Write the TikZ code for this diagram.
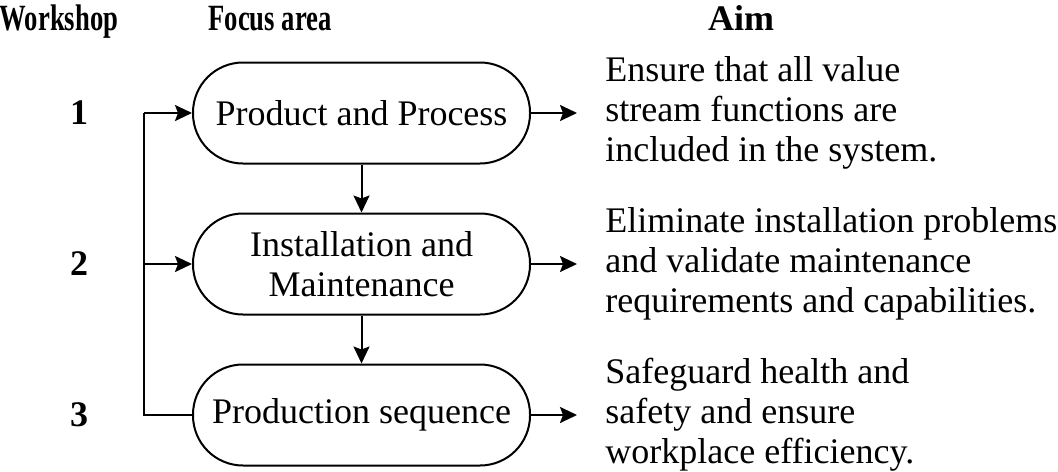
\documentclass[tikz,border=0pt]{standalone}
\usepackage{fontspec}
\setmainfont{Liberation Serif}
\newfontfamily\headfont[FakeStretch=0.72]{Liberation Serif}
\usetikzlibrary{arrows.meta}

\newcommand{\spinex}{144}
\newcommand{\boxx}{361.5}
\newcommand{\aimx}{605}

\tikzset{
  focus/.style={draw,line width=1pt,rounded corners=25pt,minimum width=168.5pt,
    minimum height=50.5pt,align=center,font=\fontsize{18}{20}\selectfont},
  aimtext/.style={anchor=west,align=left,inner sep=0pt,font=\fontsize{18}{20}\selectfont},
  head/.style={anchor=base,inner sep=0pt,font=\headfont\bfseries\fontsize{18.5}{20}\selectfont},
  numlabel/.style={inner sep=0pt,font=\bfseries\fontsize{18}{20}\selectfont},
  flow/.style={line width=1pt,-{Stealth[length=8.5pt,width=8pt,inset=1.5pt]}}
}

\begin{document}
\begin{tikzpicture}[x=0.5pt,y=-0.5pt]
                    \useasboundingbox (0,0) rectangle (1058,471);
                    \node [head] (hws) at (59,30) {Workshop};
                    \node [head] (hfa) at (270,30) {Focus area};
                    \node [numlabel,anchor=base] (haim) at (741,30) {Aim};
                    \foreach \n/\y in {1/113,2/264,3/415}
                    {
                        \node [numlabel] (ws\n) at (79,\y) {\n};
                    }
                    \node [focus] (p1) at (\boxx,113) {Product and Process};
                    \node [focus] (p2) at (\boxx,264) {Installation and\\Maintenance};
                    \node [focus] (p3) at (\boxx,415) {Production sequence};
                    \node [aimtext] (a1) at (\aimx,113) {Ensure that all value\\stream functions are\\included in the system.};
                    \node [aimtext] (a2) at (\aimx,264) {Eliminate installation problems\\and validate maintenance\\requirements and capabilities.};
                    \node [aimtext] (a3) at (\aimx,415) {Safeguard health and\\safety and ensure\\workplace efficiency.};
                    \coordinate (s1) at (\spinex,113);
                    \coordinate (s2) at (\spinex,264);
                    \coordinate (s3) at (\spinex,415);
                    \draw [line width=1pt] (p3.west) -- (s3) -- (s1);
                    \draw [flow] (s1) -- (p1.west);
                    \draw [flow] (s2) -- (p2.west);
                    \draw [flow] (p1) -- (p2);
                    \draw [flow] (p2) -- (p3);
                    \foreach \n in {1,2,3}
                    {
                        \draw [flow,shorten >=14pt] (p\n.east) -- (a\n.west);
                    }
                \end{tikzpicture}
\end{document}
